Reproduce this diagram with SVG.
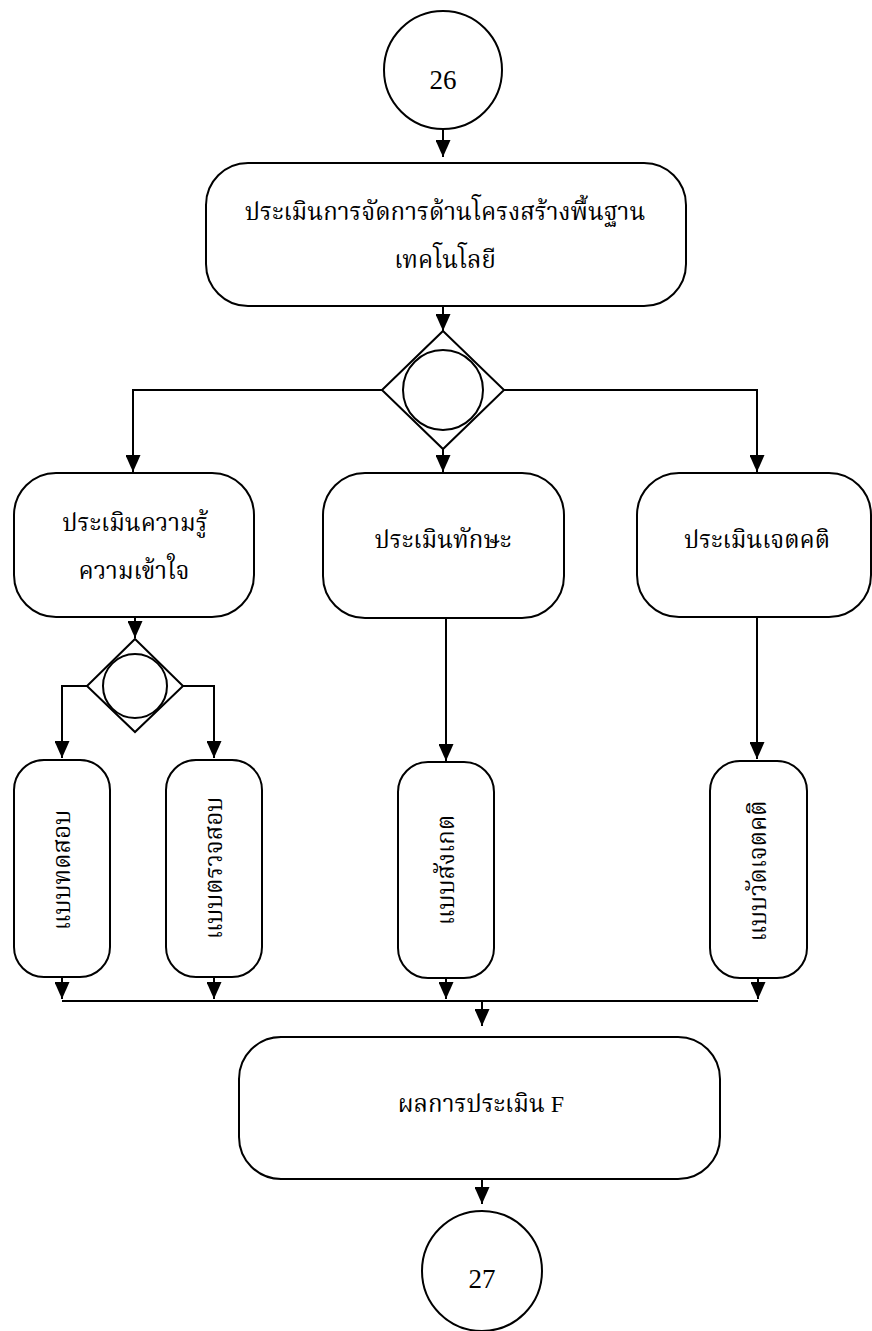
<svg xmlns="http://www.w3.org/2000/svg" width="872" height="1331" viewBox="0 0 872 1331">
<style>
.s{fill:#fff;stroke:#000;stroke-width:2}
.c{fill:none;stroke:#000;stroke-width:2}
.t{font-family:"Liberation Serif","Noto Serif Thai","Noto Sans Thai","DejaVu Sans",serif;font-size:24px;fill:#000;text-anchor:middle}
.n{font-family:"Liberation Serif",serif;font-size:27px;fill:#000;text-anchor:middle}
</style>
<defs>
<marker id="ah" markerUnits="userSpaceOnUse" markerWidth="17" markerHeight="15" refX="17" refY="7.5" orient="auto" viewBox="0 0 17 15">
<path d="M0,0 L17,7.5 L0,15 Z" fill="#000"/>
</marker>
</defs>
<g id="connectors">
<line class="c" x1="443" y1="129" x2="443" y2="157" marker-end="url(#ah)"/>
<line class="c" x1="443" y1="306" x2="443" y2="331" marker-end="url(#ah)"/>
<polyline class="c" points="382,390 133,390 133,472" marker-end="url(#ah)"/>
<polyline class="c" points="504,390 757,390 757,472" marker-end="url(#ah)"/>
<line class="c" x1="443" y1="449" x2="443" y2="472" marker-end="url(#ah)"/>
<line class="c" x1="135" y1="617" x2="135" y2="638" marker-end="url(#ah)"/>
<polyline class="c" points="87,686 62,686 62,758" marker-end="url(#ah)"/>
<polyline class="c" points="183,686 214,686 214,758" marker-end="url(#ah)"/>
<line class="c" x1="446" y1="618" x2="446" y2="761" marker-end="url(#ah)"/>
<line class="c" x1="757" y1="617" x2="757" y2="759" marker-end="url(#ah)"/>
<line class="c" x1="62" y1="977" x2="62" y2="999" marker-end="url(#ah)"/>
<line class="c" x1="214" y1="977" x2="214" y2="999" marker-end="url(#ah)"/>
<line class="c" x1="446" y1="978" x2="446" y2="999" marker-end="url(#ah)"/>
<line class="c" x1="758" y1="978" x2="758" y2="999" marker-end="url(#ah)"/>
<line class="c" x1="62" y1="1001" x2="758" y2="1001"/>
<line class="c" x1="482" y1="1001" x2="482" y2="1026" marker-end="url(#ah)"/>
<line class="c" x1="482" y1="1179" x2="482" y2="1204" marker-end="url(#ah)"/>
</g>
<g id="n26">
<circle class="s" cx="443" cy="70" r="59"/>
<text class="n" x="443" y="89">26</text>
</g>
<g id="n1">
<rect class="s" x="206" y="163" width="480" height="143" rx="42"/>
<text class="t" x="445" y="220">ประเมินการจัดการด้านโครงสร้างพื้นฐาน</text>
<text class="t" x="445" y="268">เทคโนโลยี</text>
</g>
<g id="d1">
<polygon class="s" points="443,331 504,390 443,449 382,390"/>
<circle class="s" cx="443" cy="390" r="40"/>
</g>
<g id="n2">
<rect class="s" x="14" y="473" width="240" height="144" rx="42"/>
<text class="t" x="135" y="531">ประเมินความรู้</text>
<text class="t" x="134" y="579">ความเข้าใจ</text>
</g>
<g id="n3">
<rect class="s" x="323" y="473" width="241" height="145" rx="42"/>
<text class="t" x="443" y="548">ประเมินทักษะ</text>
</g>
<g id="n4">
<rect class="s" x="637" y="473" width="234" height="144" rx="42"/>
<text class="t" x="757" y="548">ประเมินเจตคติ</text>
</g>
<g id="d2">
<polygon class="s" points="135,639 183,686 135,732 87,686"/>
<circle class="s" cx="135" cy="686" r="32"/>
</g>
<g id="n5">
<rect class="s" x="14" y="760" width="96" height="217" rx="30"/>
<text class="t" transform="translate(70,870) rotate(-90)" x="0" y="0">แบบทดสอบ</text>
</g>
<g id="n6">
<rect class="s" x="166" y="760" width="96" height="217" rx="30"/>
<text class="t" transform="translate(222,868) rotate(-90)" x="0" y="0">แบบตรวจสอบ</text>
</g>
<g id="n7">
<rect class="s" x="398" y="762" width="96" height="216" rx="30"/>
<text class="t" transform="translate(454,870) rotate(-90)" x="0" y="0">แบบสังเกต</text>
</g>
<g id="n8">
<rect class="s" x="710" y="761" width="97" height="217" rx="30"/>
<text class="t" transform="translate(766,871) rotate(-90)" x="0" y="0">แบบวัดเจตคติ</text>
</g>
<g id="n9">
<rect class="s" x="239" y="1037" width="481" height="142" rx="42"/>
<text class="t" x="481" y="1112">ผลการประเมิน F</text>
</g>
<g id="n27">
<circle class="s" cx="482" cy="1271" r="60"/>
<text class="n" x="482" y="1288">27</text>
</g>
</svg>
